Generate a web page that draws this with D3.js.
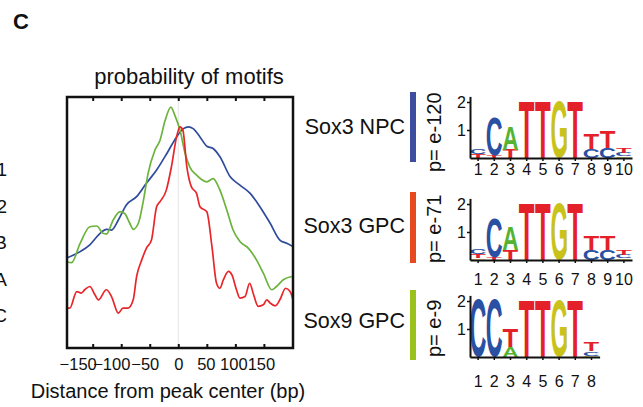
<!DOCTYPE html>
<html>
<head>
<meta charset="utf-8">
<script src="https://cdn.jsdelivr.net/npm/d3@7"></script>
<style>
body { margin: 0; background: #fff; }
text { font-family: "Liberation Sans", Arial, sans-serif; fill: #111; }
</style>
</head>
<body>
<div id="chart"></div>
<script>
var svgWidth = 643;
var svgHeight = 407;

// profile data: distance from peak center (bp) and motif probability (relative)
var sox3NpcX = [-196,-172,-155,-137,-126,-117,-105,-91,-73,-56,-38,-20,-3,9,18,26,38,50,61,73,91,108,126,143,161,178,190,201];
var sox3NpcY = [0.358,0.384,0.411,0.457,0.473,0.470,0.510,0.570,0.603,0.656,0.709,0.775,0.841,0.874,0.881,0.874,0.841,0.804,0.795,0.762,0.682,0.649,0.616,0.563,0.497,0.430,0.417,0.404];

var sox3GpcX = [-196,-187,-172,-155,-143,-132,-126,-114,-102,-94,-85,-79,-70,-61,-53,-41,-32,-23,-13,-6,3,12,20,32,50,61,73,85,96,108,123,137,149,164,172,184,199];
var sox3GpcY = [0.344,0.340,0.417,0.483,0.486,0.457,0.454,0.510,0.543,0.536,0.497,0.473,0.497,0.589,0.695,0.788,0.828,0.907,0.960,0.927,0.868,0.775,0.722,0.689,0.662,0.675,0.629,0.550,0.470,0.424,0.397,0.351,0.298,0.232,0.245,0.272,0.285];

var sox9GpcX = [-196,-190,-178,-170,-164,-155,-146,-140,-126,-117,-105,-97,-88,-79,-73,-64,-56,-47,-38,-32,-21,-12,-3,3,8,15,23,32,38,50,59,67,73,79,88,94,102,108,117,125,132,140,149,155,161,170,178,188,196,201];
var sox9GpcY = [0.159,0.159,0.225,0.219,0.232,0.245,0.212,0.192,0.232,0.205,0.139,0.159,0.159,0.192,0.285,0.351,0.397,0.430,0.563,0.583,0.629,0.722,0.841,0.881,0.868,0.722,0.642,0.616,0.563,0.543,0.404,0.258,0.238,0.272,0.305,0.291,0.232,0.199,0.205,0.258,0.212,0.166,0.172,0.192,0.179,0.168,0.192,0.238,0.225,0.192];

var xTicks = [-150, -100, -50, 0, 50, 100, 150];

// sample names and p values
var sampleNames = ["Sox3 NPC", "Sox3 GPC", "Sox9 GPC"];
var pValues = ["p= e-120", "p= e-71", "p= e-9"];

// sequence logos: information content (bits) per letter, per position
var npcLogo = [
    {T: 0.14, C: 0.2}, {T: 0.1, C: 1.35}, {T: 0.3, A: 0.85}, {T: 2.05}, {T: 2.05},
    {G: 2.0}, {T: 2.05}, {C: 0.33, T: 0.55}, {C: 0.35, T: 0.6}, {G: 0.06, C: 0.12, T: 0.2}
];
var gpcLogo = [
    {G: 0.06, T: 0.14, C: 0.2}, {T: 0.1, C: 1.4}, {T: 0.35, A: 0.85}, {T: 2.05}, {T: 2.05},
    {G: 2.0}, {T: 2.05}, {C: 0.35, T: 0.5}, {C: 0.35, T: 0.52}, {G: 0.06, C: 0.12, T: 0.2}
];
var sox9Logo = [
    {C: 2.05}, {C: 2.05}, {A: 0.35, T: 0.63}, {T: 2.05}, {T: 2.05},
    {G: 2.0}, {T: 2.05}, {G: 0.05, C: 0.15, T: 0.3}
];

// cut-off labels of the neighbouring panel
var edgeLabels = ["1", "2", "B", "A", "C"];

var lineColors = ["#2f4c9c", "#6cb33e", "#e8262a"];
var barColors = ["#3d4ea0", "#e84a1f", "#9ac21d"];
var letterColors = {A: "#55b332", C: "#2a50a3", G: "#c9c21a", T: "#e42128"};

var margin = {top: 97, right: 350, bottom: 59, left: 67};
var chartWidth = svgWidth - margin.left - margin.right;
var chartHeight = svgHeight - margin.top - margin.bottom;

var svg = d3.select("#chart")
    .append("svg")
    .attr("width", svgWidth)
    .attr("height", svgHeight);

// panel letter
svg.append("text")
    .attr("x", 13)
    .attr("y", 29)
    .attr("font-size", 22)
    .attr("font-weight", "bold")
    .text("C");

// leftover labels at the left edge
svg.selectAll(".edge")
    .data(edgeLabels)
    .enter()
    .append("text")
    .attr("x", 7)
    .attr("y", (d, i) => 176 + i * 36.6)
    .attr("text-anchor", "end")
    .attr("font-size", 19)
    .text(d => d);

var chartGroup = svg.append("g")
    .attr("transform", `translate(${margin.left}, ${margin.top})`);

var xLinearScale = d3.scaleLinear()
    .domain([-195, 201])
    .range([0, chartWidth]);
var yLinearScale = d3.scaleLinear()
    .domain([0, 1])
    .range([chartHeight, 0]);

chartGroup.append("clipPath")
    .attr("id", "plotClip")
    .append("rect")
    .attr("width", chartWidth)
    .attr("height", chartHeight);

// faint line at the peak center
chartGroup.append("line")
    .attr("x1", xLinearScale(0))
    .attr("x2", xLinearScale(0))
    .attr("y1", 0)
    .attr("y2", chartHeight)
    .attr("stroke", "#e4e4e4")
    .attr("stroke-width", 1);

var series = [
    d3.zip(sox3NpcX, sox3NpcY),
    d3.zip(sox3GpcX, sox3GpcY),
    d3.zip(sox9GpcX, sox9GpcY)
];

var line = d3.line()
    .x(d => xLinearScale(d[0]))
    .y(d => yLinearScale(d[1]))
    .curve(d3.curveMonotoneX);

chartGroup.append("g")
    .attr("clip-path", "url(#plotClip)")
    .selectAll("path")
    .data(series)
    .enter()
    .append("path")
    .attr("d", line)
    .attr("fill", "none")
    .attr("stroke", (d, i) => lineColors[i])
    .attr("stroke-width", 1.7);

var bottomAxis = d3.axisBottom(xLinearScale)
    .tickValues(xTicks)
    .tickSizeInner(-4)
    .tickSizeOuter(0)
    .tickPadding(10);
var topAxis = d3.axisTop(xLinearScale)
    .tickValues(xTicks)
    .tickSizeInner(-4)
    .tickSizeOuter(0)
    .tickFormat("");

var bottomG = chartGroup.append("g")
    .attr("transform", `translate(0, ${chartHeight})`)
    .call(bottomAxis);
var topG = chartGroup.append("g").call(topAxis);

[bottomG, topG].forEach(function(g) {
    g.select(".domain").remove();
    g.selectAll(".tick line").attr("stroke", "#111").attr("stroke-width", 2);
});
bottomG.selectAll(".tick text")
    .attr("font-size", 16.5)
    .attr("font-family", "Liberation Sans, Arial, sans-serif")
    .attr("fill", "#111")
    .attr("dx", d => d < 0 ? d * 0.1 : -d * 0.02);

chartGroup.append("rect")
    .attr("width", chartWidth)
    .attr("height", chartHeight)
    .attr("fill", "none")
    .attr("stroke", "#111")
    .attr("stroke-width", 2.5);

// titles
chartGroup.append("text")
    .attr("x", chartWidth / 2 + 9)
    .attr("y", -13)
    .attr("text-anchor", "middle")
    .attr("font-size", 22)
    .text("probability of motifs");
chartGroup.append("text")
    .attr("x", chartWidth / 2 - 12)
    .attr("y", chartHeight + 50)
    .attr("text-anchor", "middle")
    .attr("font-size", 20)
    .text("Distance from peak center (bp)");

// ---- sequence logos ----
var logos = [npcLogo, gpcLogo, sox9Logo];
var rows = [
    {base: 158, name: 134, barTop: 92, barBottom: 162, p: 172, gap: 3},
    {base: 260, name: 233, barTop: 192, barBottom: 263, p: 263, gap: 11},
    {base: 357, name: 328, barTop: 290, barBottom: 360, p: 357, gap: 16}
];
var logoLeft = 470;
var colWidth = 16.2;
var bitHeight = 28;

// tight glyph bounds, measured once
var ctx = document.createElement("canvas").getContext("2d");
ctx.font = "bold 100px 'Liberation Sans', Arial, sans-serif";
var glyph = {};
"ACGT".split("").forEach(function(l) {
    var m = ctx.measureText(l);
    glyph[l] = {
        left: m.actualBoundingBoxLeft,
        right: m.actualBoundingBoxRight,
        ascent: m.actualBoundingBoxAscent,
        descent: m.actualBoundingBoxDescent
    };
});

rows.forEach(function(row, r) {
    var logo = logos[r];

    svg.append("text")
        .attr("x", 405)
        .attr("y", row.name)
        .attr("text-anchor", "end")
        .attr("font-size", 21.5)
        .text(sampleNames[r]);

    svg.append("rect")
        .attr("x", 410)
        .attr("y", row.barTop)
        .attr("width", 6)
        .attr("height", row.barBottom - row.barTop)
        .attr("fill", barColors[r]);

    svg.append("text")
        .attr("transform", `translate(441, ${row.p}) rotate(-90)`)
        .attr("font-size", 20)
        .text(pValues[r]);

    var positions = d3.range(1, logo.length + 1);
    var xBand = d3.scaleBand()
        .domain(positions)
        .range([logoLeft, logoLeft + logo.length * colWidth]);
    var yBits = d3.scaleLinear()
        .domain([0, 2.2])
        .range([row.base, row.base - 2.2 * bitHeight]);

    var g = svg.append("g");

    logo.forEach(function(col, i) {
        var stack = Object.keys(col)
            .map(k => ({letter: k, bits: col[k]}))
            .sort((a, b) => a.bits - b.bits);
        var acc = 0;
        stack.forEach(function(s) {
            var x0 = xBand(i + 1) + 0.4;
            var w = xBand.bandwidth() - 0.8;
            var yTop = yBits(acc + s.bits);
            var h = yBits(acc) - yTop;
            acc += s.bits;
            var gb = glyph[s.letter];
            var sx = w / (gb.left + gb.right);
            var sy = h / (gb.ascent + gb.descent);
            g.append("text")
                .attr("transform", `translate(${x0 + gb.left * sx}, ${yTop + gb.ascent * sy}) scale(${sx}, ${sy})`)
                .attr("font-size", 100)
                .attr("font-weight", "bold")
                .style("fill", letterColors[s.letter])
                .text(s.letter);
        });
    });

    var leftAxis = d3.axisLeft(yBits)
        .tickValues([1, 2])
        .tickSizeInner(3)
        .tickSizeOuter(0)
        .tickPadding(1)
        .tickFormat(d3.format("d"));
    var ax = svg.append("g")
        .attr("transform", `translate(${logoLeft}, 0)`)
        .call(leftAxis);

    var posAxis = d3.axisBottom(xBand)
        .tickSizeInner(3)
        .tickSizeOuter(0)
        .tickPadding(row.gap);
    var bx = svg.append("g")
        .attr("transform", `translate(0, ${row.base})`)
        .call(posAxis);

    [ax, bx].forEach(function(a) {
        a.select(".domain").attr("stroke", "#111").attr("stroke-width", 2);
        a.selectAll(".tick line").attr("stroke", "#111").attr("stroke-width", 1.5);
        a.selectAll(".tick text")
            .attr("font-size", 16)
            .attr("font-family", "Liberation Sans, Arial, sans-serif")
            .attr("fill", "#111");
    });
});
</script>
</body>
</html>
